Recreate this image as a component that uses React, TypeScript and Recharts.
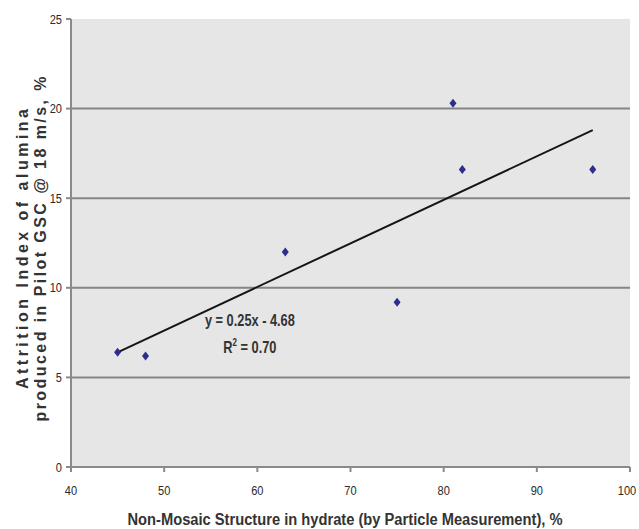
import React from "react";
import {
  ScatterChart,
  Scatter,
  XAxis,
  YAxis,
  CartesianGrid,
  ReferenceDot,
} from "recharts";

const structurePct = [45, 48, 63, 75, 81, 82, 96];
const attritionIdx = [6.4, 6.2, 12.0, 9.2, 20.3, 16.6, 16.6];
const trendX = [45, 96];
const trendY = [6.4, 18.8];
const xTicks = [40, 50, 60, 70, 80, 90, 100];
const yTicks = [0, 5, 10, 15, 20, 25];
const gridValues = [5, 10, 15, 20];

const points = structurePct.map((x, i) => ({ x, y: attritionIdx[i] }));
const trend = trendX.map((x, i) => ({ x, y: trendY[i] }));

const font = "'Liberation Sans', Arial, sans-serif";

const Diamond = (props: any) => {
  const { cx, cy } = props;
  if (cx == null || cy == null) return <g />;
  return (
    <polygon
      points={`${cx},${cy - 4.5} ${cx + 3.5},${cy} ${cx},${cy + 4.5} ${cx - 3.5},${cy}`}
      fill="#2d2d8f"
    />
  );
};

// narrow tick labels, squeezed horizontally like Arial Narrow
const NarrowTick = (props: any) => {
  const { x, y, payload } = props;
  return (
    <g transform={`translate(${x},${y}) scale(0.85,1)`}>
      <text x={0} y={2} dy="0.71em" textAnchor="middle" fontFamily={font} fontSize={13} fill="#2a2a2a">
        {payload.value}
      </text>
    </g>
  );
};

const YTick = (props: any) => {
  const { x, y, payload } = props;
  return (
    <g transform={`translate(${x},${y}) scale(0.85,1)`}>
      <text x={0} y={0} dy="0.35em" textAnchor="end" fontFamily={font} fontSize={13} fill="#2a2a2a">
        {payload.value}
      </text>
    </g>
  );
};

const YLabel = () => {
  const cy = 249;
  return (
    <g fontFamily={font} fontWeight="bold" fontSize={16} fill="#333">
      <text x={22} y={cy} transform={`rotate(-90, 22, ${cy})`} textAnchor="middle" dominantBaseline="central" textLength={280} lengthAdjust="spacing">
        Attrition Index of alumina
      </text>
      <text x={40} y={cy} transform={`rotate(-90, 40, ${cy})`} textAnchor="middle" dominantBaseline="central" textLength={345} lengthAdjust="spacing">
        produced in Pilot GSC @ 18 m/s, %
      </text>
    </g>
  );
};

const XLabel = () => (
  <text x={345} y={525} textAnchor="middle" fontFamily={font} fontWeight="bold" fontSize={16} fill="#333" textLength={435} lengthAdjust="spacingAndGlyphs">
    Non-Mosaic Structure in hydrate (by Particle Measurement), %
  </text>
);

const Equation = (props: any) => {
  const vb = props.viewBox || {};
  const x = vb.x;
  const y = vb.y;
  return (
    <g
      transform={`translate(${x},${y}) scale(0.8,1)`}
      fontFamily={font}
      fontWeight="bold"
      fontSize={16}
      fill="#333"
      textAnchor="middle"
    >
      <text x={0} y={6}>y = 0.25x - 4.68</text>
      <text x={0} y={33}>
        R<tspan dy={-7} fontSize={10}>2</tspan>
        <tspan dy={7}> = 0.70</tspan>
      </text>
    </g>
  );
};

export default function App() {
  return (
    <div style={{ position: "absolute", left: 0, top: 0, width: 639, height: 529, background: "#fff" }}>
      <ScatterChart width={639} height={529} margin={{ top: 19, right: 9, left: 0, bottom: 0 }}>
        <CartesianGrid
          fill="#e6e6e6"
          vertical={false}
          horizontalValues={gridValues}
          stroke="#858585"
          strokeWidth={2}
        />
        <XAxis
          type="number"
          dataKey="x"
          domain={[40, 100]}
          ticks={xTicks}
          height={62}
          stroke="#8a8a8a"
          strokeWidth={2}
          tickSize={5}
          tickMargin={12}
          tick={<NarrowTick />}
          label={<XLabel />}
        />
        <YAxis
          type="number"
          dataKey="y"
          domain={[0, 25]}
          ticks={yTicks}
          width={71}
          stroke="#8a8a8a"
          strokeWidth={2}
          tickSize={5}
          tickMargin={4}
          tick={<YTick />}
          label={<YLabel />}
        />
        {/* top and right frame of the plot area */}
        <XAxis xAxisId="top" orientation="top" type="number" dataKey="x" domain={[40, 100]} tick={false} tickLine={false} height={0} stroke="#b0b0b0" />
        <YAxis yAxisId="right" orientation="right" type="number" dataKey="y" domain={[0, 25]} tick={false} tickLine={false} width={0} stroke="#b0b0b0" />
        <Scatter
          data={trend}
          line={{ stroke: "#151515", strokeWidth: 2 }}
          shape={() => <g />}
          isAnimationActive={false}
        />
        <Scatter data={points} shape={<Diamond />} isAnimationActive={false} />
        <ReferenceDot x={59.2} y={8.2} r={0} fill="none" stroke="none" label={<Equation />} />
      </ScatterChart>
    </div>
  );
}
